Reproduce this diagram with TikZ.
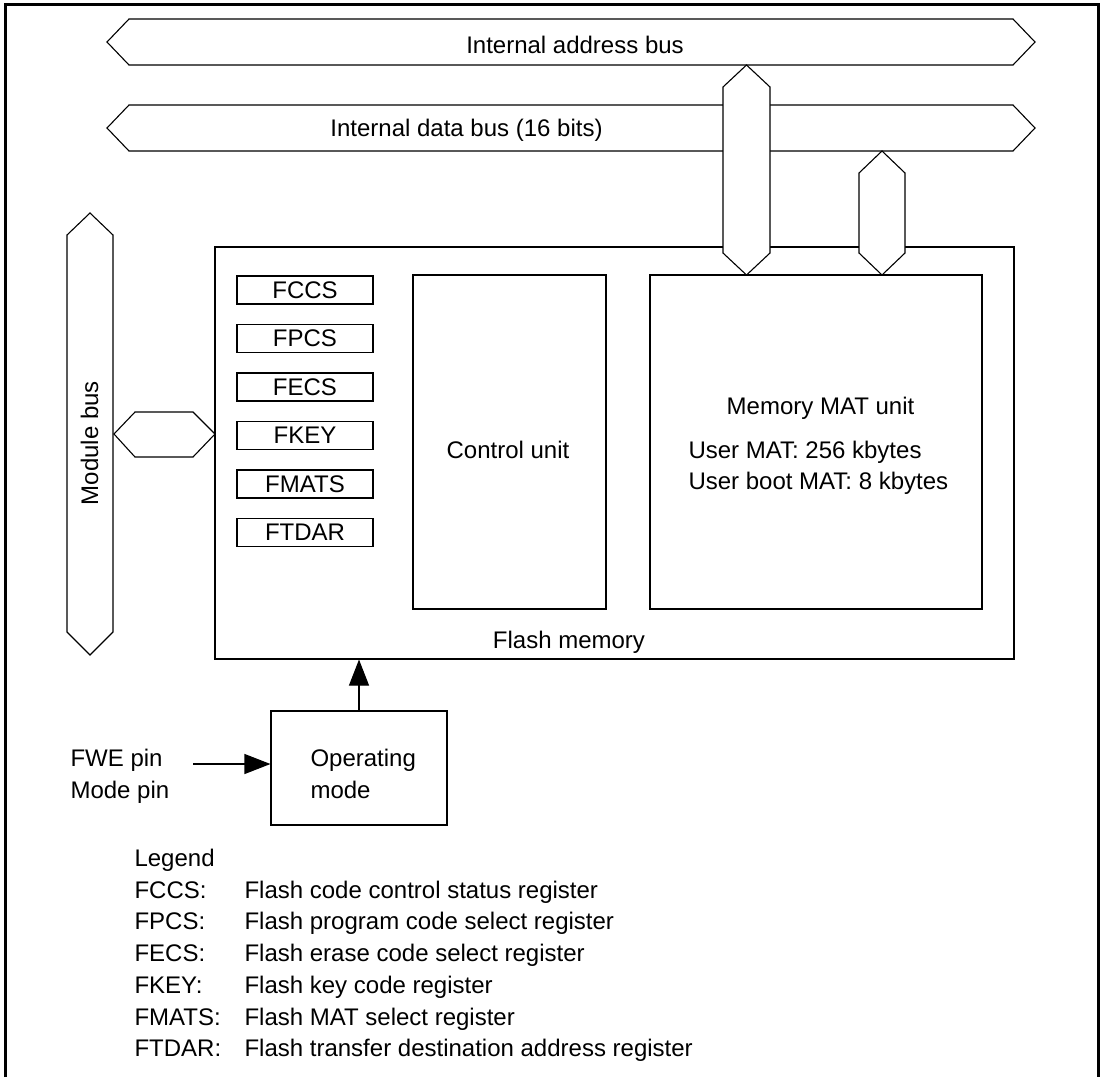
\documentclass[tikz,border=0pt]{standalone}
\usepackage{fontspec}
\setmainfont{Liberation Sans}
\usepackage{tikz}
\usetikzlibrary{
arrows.meta,
positioning
}

\begin{document}
\begin{tikzpicture}[
x=1pt, y=-1pt,
node distance=19.4pt,
font=\fontsize{24}{31.7}\selectfont,
line width=1.1pt,
frame/.style={line width=3pt},
bus/.style={draw,fill=white},
unit/.style={draw,inner sep=0pt},
reg/.style={
draw,
minimum width=136pt,
minimum height=28pt,
inner sep=0pt
},
txt/.style={inner sep=0pt,anchor=base},
ltxt/.style={inner sep=0pt,anchor=base west},
arrow/.style={-{Triangle[length=26pt,width=20pt]}}
]

\useasboundingbox (0,0) rectangle (1103,1077);
\draw[frame] (5,1077) |- (1098,4) -- (1098,1077);

% internal buses
\draw[bus] (107,42) -- (129,19) -- (1013,19) -- (1035,42) -- (1013,65) -- (129,65) -- cycle;
\draw[bus] (107,128) -- (129,105) -- (1013,105) -- (1035,128) -- (1013,151) -- (129,151) -- cycle;
\node[txt] (addrtxt) at (575,53.5) {Internal address bus};
\node[txt] (datatxt) at (466.5,136.5) {Internal data bus (16 bits)};

% flash memory
\node[unit,minimum width=799pt,minimum height=412pt] (flash) at (614.5,453) {};
\node[unit,minimum width=193pt,minimum height=334pt] (ctrl) at (509.5,442) {};
\node[unit,minimum width=332pt,minimum height=334pt] (mat) at (816,442) {};
\node[txt] (ctrltxt) at (508,458.5) {Control unit};
\node[txt] (mattxt) at (820.5,414) {Memory MAT unit};
\node[ltxt] (usermat) at (688,458.5) {User MAT: 256 kbytes};
\node[ltxt] (bootmat) at (688,489.5) {User boot MAT: 8 kbytes};
\node[txt] (flashtxt) at (569,648.5) {Flash memory};

\node[reg] (fccs) at (305,290) {FCCS};
\node[reg,below=of fccs] (fpcs) {FPCS};
\node[reg,below=of fpcs] (fecs) {FECS};
\node[reg,below=of fecs] (fkey) {FKEY};
\node[reg,below=of fkey] (fmats) {FMATS};
\node[reg,below=of fmats] (ftdar) {FTDAR};

% bus links
\draw[bus] (746.5,65) -- (770,87) -- (770,253) -- (746.5,275) -- (723,253) -- (723,87) -- cycle;
\draw[bus] (882,151) -- (905,173) -- (905,253) -- (882,275) -- (859,253) -- (859,173) -- cycle;
\draw[bus] (90,213) -- (113,235) -- (113,632) -- (90,655) -- (67,632) -- (67,235) -- cycle;
\draw[bus] (114,434) -- (135,412) -- (193,412) -- (215,434) -- (193,457) -- (135,457) -- cycle;
\node[txt,rotate=90] (modtxt) at (98,443) {Module bus};

% operating mode
\node[unit,minimum width=176pt,minimum height=114pt] (opmode) at (359,768) {};
\node[ltxt] (optxt) at (310,766.5) {Operating};
\node[ltxt] (modetxt) at (310,798) {mode};
\node[ltxt] (fwe) at (70,766.5) {FWE pin};
\node[ltxt] (modepin) at (70,798) {Mode pin};
\coordinate (pinin) at (193,764);

\draw[arrow] (pinin) -- (pinin -| opmode.west);
\draw[arrow] (opmode.north) -- (flash.south -| opmode.north);

% legend
\node[ltxt] (legend) at (134,866.5) {\begin{tabular}[t]{@{}p{110pt}@{}l@{}}
Legend & \\
FCCS: & Flash code control status register\\
FPCS: & Flash program code select register\\
FECS: & Flash erase code select register\\
FKEY: & Flash key code register\\
FMATS: & Flash MAT select register\\
FTDAR: & Flash transfer destination address register
\end{tabular}};

\end{tikzpicture}
\end{document}
